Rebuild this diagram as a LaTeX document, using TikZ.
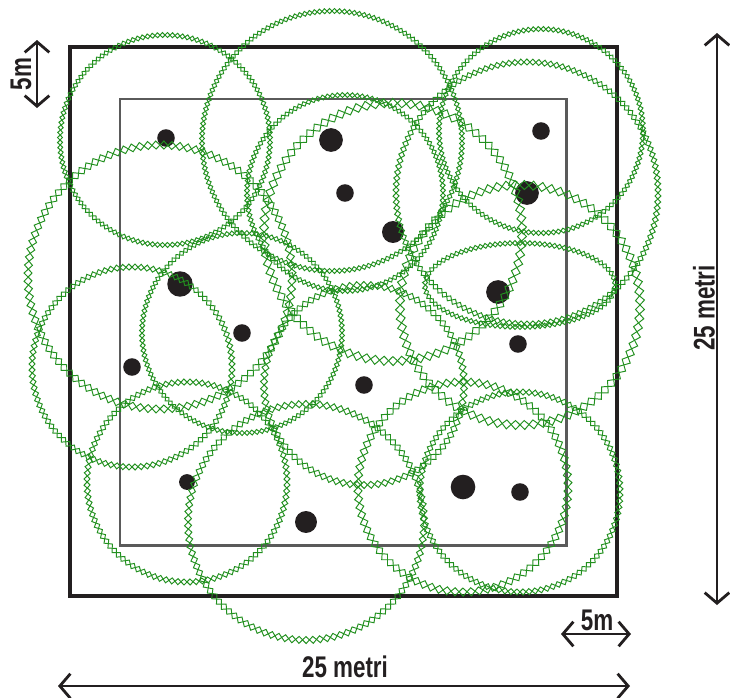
\documentclass[tikz,border=0pt]{standalone}
\usepackage{fontspec}
\usetikzlibrary{decorations.pathmorphing,arrows.meta}
\newfontfamily\dimfont{Liberation Sans}[FakeStretch=0.75]
\definecolor{leaf}{HTML}{22901F}
\definecolor{ink}{HTML}{231F20}
\definecolor{plotgray}{HTML}{5A5A5A}
% crown outline: chain of diamonds, #1 = diamond length (px)
\newcommand\crown[4][6]{%
  \pgfmathsetmacro\perim{pi*(3*(#3+#4)-100*sqrt(((3*#3+#4)/100)*((#3+3*#4)/100)))}%
  \pgfmathtruncatemacro\nseg{max(8,round(\perim/(2*#1)))}%
  \pgfmathsetmacro\seglen{\perim*0.5691/\nseg}%
  \foreach \amp in {1,-1}
    \draw[crownline, decoration={zigzag, segment length=\seglen pt, amplitude=\amp*\seglen pt/4}, decorate]
      (#2) ellipse[x radius=#3, y radius=#4];
}

\begin{document}
\begin{tikzpicture}[x=0.02cm, y=-0.02cm,
    crownline/.style={leaf, line width=0.55pt},
    trunk/.style={circle, fill=ink, inner sep=0pt, minimum size=#1},
    trunk/.default=10pt,
    dimline/.style={ink, line width=1.6pt,
      {Straight Barb[length=6pt,width=14pt]}-{Straight Barb[length=6pt,width=14pt]}},
    dimlabel/.style={font=\dimfont\bfseries\fontsize{17}{17}\selectfont, text=ink, inner sep=0pt}]
  \useasboundingbox (0,0) rectangle (730,697);

  % plots
  \draw[ink, line width=2.8pt] (70,47) rectangle (617,596);
  \draw[plotgray, line width=1.7pt] (120,99) rectangle (566,545);

  % trees
  \path
  (166,138) node[trunk] (t1) {}
  (331,140) node[trunk=13.5pt] (t2) {}
  (345,193) node[trunk] (t3) {}
  (393,232) node[trunk=12.5pt] (t4) {}
  (541,131) node[trunk] (t5) {}
  (527,193) node[trunk=13.5pt] (t6) {}
  (180,284) node[trunk=14.5pt] (t7) {}
  (242,333) node[trunk] (t8) {}
  (132,367) node[trunk] (t9) {}
  (498,292) node[trunk=13.5pt] (t10) {}
  (518,344) node[trunk] (t11) {}
  (364,385) node[trunk] (t12) {}
  (187,482) node[trunk=9pt] (t13) {}
  (306,522) node[trunk=12.5pt] (t14) {}
  (463,487) node[trunk=14pt] (t15) {}
  (520,492) node[trunk] (t16) {}
  ;

  % crowns
  \crown[5]{165,140}{105}{105}
  \crown[5]{332,141}{130}{130}
  \crown[5]{345,193}{98}{98}
  \crown[9]{393,232}{129}{129}
  \crown[5]{541,131}{102}{102}
  \crown[6]{527,193}{131}{131}
  \crown[8]{160,277}{132}{132}
  \crown[5]{242,333}{100}{100}
  \crown[6]{132,367}{100}{100}
  \crown[5]{520,285}{95}{42}
  \crown[9]{520,305}{120}{120}
  \crown[7]{364,385}{100}{100}
  \crown[6]{187,482}{100}{100}
  \crown[7]{306,522}{118}{118}
  \crown[8]{463,487}{105}{105}
  \crown[6]{520,492}{100}{100}

  % dimensions
  \coordinate (s1) at (37,40);
  \coordinate (s2) at (37,108);
  \draw[dimline] (s1) -- (s2);
  \node[dimlabel, rotate=90] (s) at (21,74) {5m};

  \coordinate (h1) at (717,33);
  \coordinate (h2) at (717,605);
  \draw[dimline] (h1) -- (h2);
  \node[dimlabel, rotate=90] (h) at (704,308) {25 metri};

  \coordinate (b1) at (561,634);
  \coordinate (b2) at (631,634);
  \draw[dimline] (b1) -- (b2);
  \node[dimlabel] (b) at (597,620) {5m};

  \coordinate (w1) at (58,686);
  \coordinate (w2) at (630,686);
  \draw[dimline] (w1) -- (w2);
  \node[dimlabel] (w) at (345,667) {25 metri};
\end{tikzpicture}
\end{document}
